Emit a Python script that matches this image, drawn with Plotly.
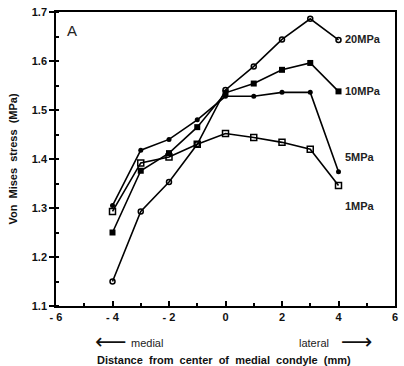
import plotly.graph_objects as go

x = [-4, -3, -2, -1, 0, 1, 2, 3, 4]
s20 = [1.150, 1.293, 1.353, 1.430, 1.541, 1.589, 1.644, 1.686, 1.643]
s10 = [1.250, 1.376, 1.412, 1.465, 1.535, 1.554, 1.582, 1.596, 1.538]
s5 = [1.305, 1.418, 1.440, 1.480, 1.528, 1.528, 1.536, 1.536, 1.374]
s1 = [1.293, 1.392, 1.404, 1.430, 1.452, 1.444, 1.434, 1.420, 1.346]
labels = ["20MPa", "10MPa", "5MPa", "1MPa"]
label_y = [1.644, 1.538, 1.405, 1.305]

xtick_vals = [-6, -4, -2, 0, 2, 4, 6]
xtick_text = ["<b>- 6</b>", "<b>- 4</b>", "<b>- 2</b>", "<b>0</b>", "<b>2</b>", "<b>4</b>", "<b>6</b>"]
ytick_vals = [1.1, 1.2, 1.3, 1.4, 1.5, 1.6, 1.7]
ytick_text = ["<b>1.1</b>", "<b>1.2</b>", "<b>1.3</b>", "<b>1.4</b>", "<b>1.5</b>", "<b>1.6</b>", "<b>1.7</b>"]

FONT = "Liberation Sans, Arial, sans-serif"
fig = go.Figure()

styles = [
    (s20, dict(symbol="circle-open", size=5, color="black", line=dict(width=1.5, color="black"))),
    (s10, dict(symbol="square", size=6, color="black")),
    (s5, dict(symbol="circle", size=5, color="black")),
    (s1, dict(symbol="square-open", size=6, color="black", line=dict(width=1.5, color="black"))),
]
for (ys, mk), name in zip(styles, labels):
    fig.add_trace(go.Scatter(x=x, y=ys, mode="lines+markers", name=name,
                             line=dict(color="black", width=1.6),
                             marker=mk, showlegend=False))

for name, ly in zip(labels, label_y):
    fig.add_annotation(x=4.15, y=ly, xref="x", yref="y", text=f"<b>{name}</b>", showarrow=False,
                       xanchor="left", yanchor="middle",
                       font=dict(family=FONT, size=11, color="#222"))

fig.add_annotation(x=-5.45, y=1.663, xref="x", yref="y", text="A", showarrow=False,
                   xanchor="center", yanchor="middle",
                   font=dict(family=FONT, size=15, color="#222"))

# medial / lateral
fig.add_annotation(x=(93 - 56) / 342, y=(306 - 342) / 298, xref="paper", yref="paper",
                   text="⟵", showarrow=False, xanchor="left", yanchor="middle",
                   font=dict(family="DejaVu Sans", size=22, color="#111"))
fig.add_annotation(x=(130 - 56) / 342, y=(306 - 343) / 298, xref="paper", yref="paper",
                   text="medial", showarrow=False, xanchor="left", yanchor="middle",
                   font=dict(family=FONT, size=11, color="#222"))
fig.add_annotation(x=(333 - 56) / 342, y=(306 - 343) / 298, xref="paper", yref="paper",
                   text="lateral", showarrow=False, xanchor="right", yanchor="middle",
                   font=dict(family=FONT, size=11, color="#222"))
fig.add_annotation(x=(342 - 56) / 342, y=(306 - 342) / 298, xref="paper", yref="paper",
                   text="⟶", showarrow=False, xanchor="left", yanchor="middle",
                   font=dict(family="DejaVu Sans", size=22, color="#111"))
fig.add_annotation(x=(225 - 56) / 342, y=(306 - 353) / 298, xref="paper", yref="paper",
                   text="<b>Distance  from  center  of  medial  condyle  (mm)</b>",
                   showarrow=False, xanchor="center", yanchor="top",
                   font=dict(family=FONT, size=11, color="#111"))

fig.update_layout(
    width=404, height=366,
    margin=dict(l=56, r=6, t=8, b=60),
    paper_bgcolor="white", plot_bgcolor="white",
    font=dict(family=FONT, size=11, color="#222"),
    xaxis=dict(range=[-6, 6], tickvals=xtick_vals, ticktext=xtick_text,
               showgrid=False, zeroline=False, showline=True, linecolor="black",
               linewidth=1.5, mirror=True, ticks="inside", ticklen=5, tickwidth=1.5,
               tickcolor="black",
               minor=dict(dtick=1, ticks="inside", ticklen=3, tickcolor="black", tickwidth=1.5),
               tickfont=dict(family=FONT, size=11, color="#111")),
    yaxis=dict(range=[1.1, 1.7], tickvals=ytick_vals, ticktext=ytick_text,
               showgrid=False, zeroline=False, showline=True, linecolor="black",
               linewidth=1.5, mirror=True, ticks="outside", ticklen=5, tickwidth=1.5,
               tickcolor="black",
               minor=dict(dtick=0.05, ticks="inside", ticklen=3, tickcolor="black", tickwidth=1.5),
               title=dict(text="<b>Von  Mises  stress  (MPa)</b>", standoff=12,
                          font=dict(family=FONT, size=11, color="#111")),
               tickfont=dict(family=FONT, size=11, color="#111")),
)

fig.write_html("out.html")
